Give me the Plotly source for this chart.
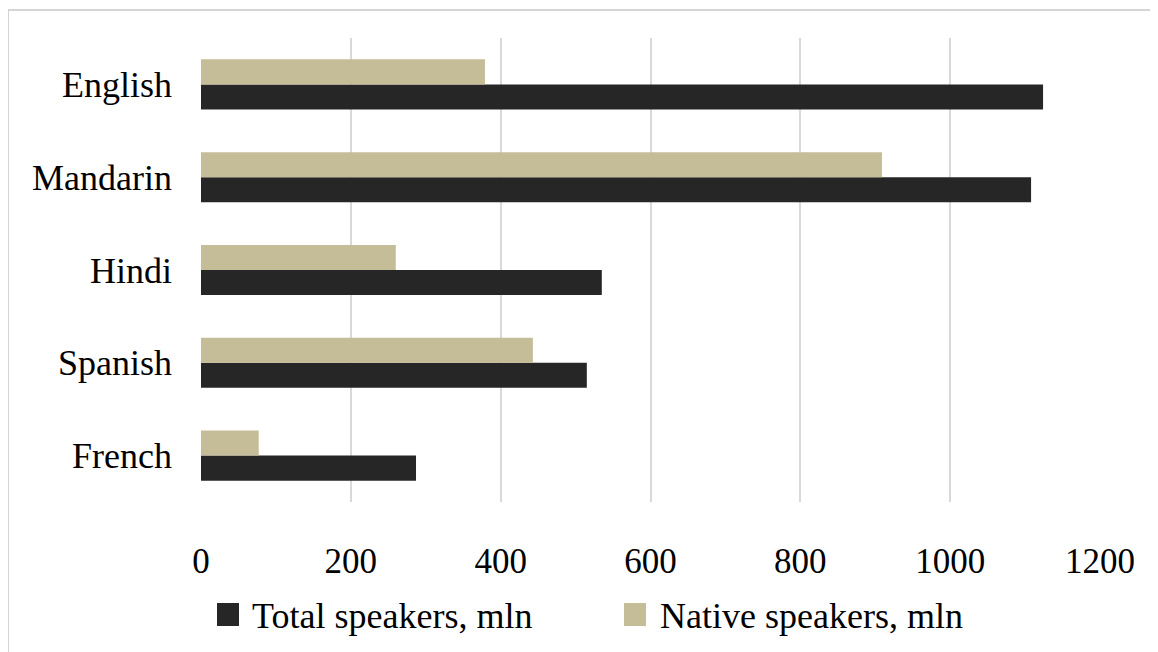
import plotly.graph_objects as go

languages = ["English", "Mandarin", "Hindi", "Spanish", "French"]
total_speakers = [1124, 1108, 535, 515, 287]
native_speakers = [379, 909, 260, 443, 77]
x_ticks = [0, 200, 400, 600, 800, 1000, 1200]
series_names = ["Total speakers, mln", "Native speakers, mln"]

FONT = "Liberation Serif, Times New Roman, serif"
DARK = "#262626"
TAN = "#c5bd97"

# page has an 8px body margin, so the figure is offset by 8px
W, H = 1150, 644
ML, MR, MT, MB = 193, 58, 30, 150
pw, ph = W - ML - MR, H - MT - MB


def px(fx):
    return (fx - ML) / pw


def py(fy):
    return (MT + ph - fy) / ph


fig = go.Figure()
fig.add_trace(go.Bar(
    y=languages, x=total_speakers, orientation="h",
    name=series_names[0], marker=dict(color=DARK, line=dict(width=0)),
    showlegend=False,
))
fig.add_trace(go.Bar(
    y=languages, x=native_speakers, orientation="h",
    name=series_names[1], marker=dict(color=TAN, line=dict(width=0)),
    showlegend=False,
))

fig.update_layout(
    width=W, height=H,
    margin=dict(l=ML, r=MR, t=MT, b=MB, pad=0, autoexpand=False),
    paper_bgcolor="white", plot_bgcolor="white",
    barmode="group", bargap=0.46, bargroupgap=0,
    font=dict(family=FONT, size=35, color="black"),
    showlegend=False,
    xaxis=dict(range=[0, 1200], tickvals=x_ticks, ticktext=[str(v) for v in x_ticks],
               showgrid=True, gridcolor="#d9d9d9", gridwidth=1.5, zeroline=False,
               showline=False, ticks="", ticklabelstandoff=35, automargin=False,
               tickfont=dict(size=35, family=FONT)),
    yaxis=dict(categoryorder="array", categoryarray=languages[::-1],
               showgrid=False, zeroline=False, automargin=False,
               showline=False, ticks="", ticklabelstandoff=28,
               tickfont=dict(size=36, family=FONT)),
)

# outer chart border
fig.add_shape(type="rect", xref="paper", yref="paper",
              x0=px(0), x1=px(W + 5), y0=py(H + 5), y1=py(2),
              line=dict(color="#c8c8c8", width=1.5), fillcolor="rgba(0,0,0,0)",
              layer="below")

# manual legend (large square swatches)
legend_items = [(series_names[0], DARK, 209, 242), (series_names[1], TAN, 616, 650)]
for name, col, sx, tx in legend_items:
    fig.add_shape(type="rect", xref="paper", yref="paper",
                  x0=px(sx), x1=px(sx + 22), y0=py(618), y1=py(595),
                  line=dict(width=0), fillcolor=col)
    fig.add_annotation(xref="paper", yref="paper", x=px(tx), y=py(608),
                       text=name, showarrow=False, xanchor="left", yanchor="middle",
                       font=dict(size=36, family=FONT, color="black"))

fig.write_html("out.html")
